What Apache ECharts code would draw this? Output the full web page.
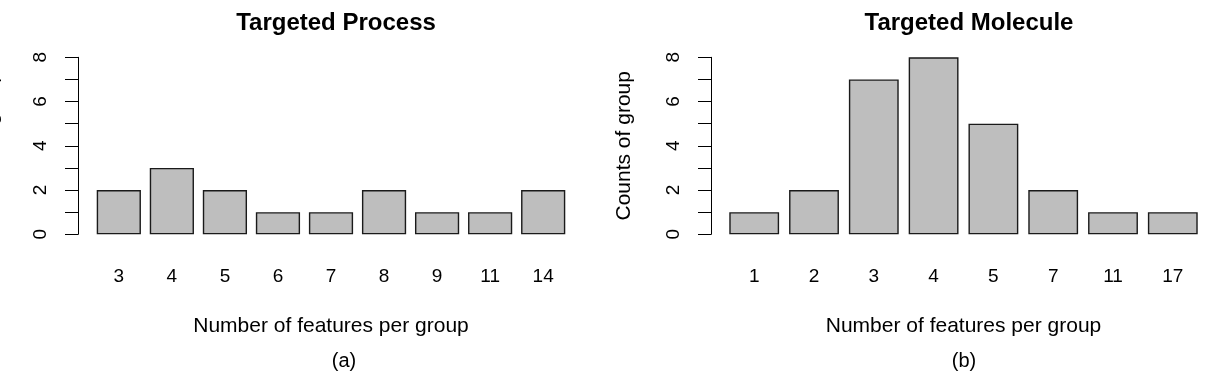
<!DOCTYPE html>
<html>
<head>
<meta charset="utf-8">
<script src="https://cdn.jsdelivr.net/npm/echarts@6/dist/echarts.min.js"></script>
<style>
html,body{margin:0;padding:0;background:#fff;}
#chart{width:1206px;height:378px;}
</style>
</head>
<body>
<div id="chart"></div>
<script>
// Data
const processCategories = ['3','4','5','6','7','8','9','11','14'];
const processCounts = [2,3,2,1,1,2,1,1,2];
const moleculeCategories = ['1','2','3','4','5','7','11','17'];
const moleculeCounts = [1,2,7,8,5,2,1,1];
const yTickValues = [0,2,4,6,8];
const titles = ['Targeted Process','Targeted Molecule'];
const subLabels = ['(a)','(b)'];
const xAxisName = 'Number of features per group';
const yAxisName = 'Counts of group';

const FONT = 'Liberation Sans, Arial, Helvetica, sans-serif';
const chart = echarts.init(document.getElementById('chart'), null, {renderer:'canvas'});

function yAxisCfg(gridIndex, offset){
  return {
    type:'value', gridIndex, min:0, max:8, interval:1, offset,
    name: yAxisName, nameLocation:'middle', nameGap:76, nameRotate:90,
    nameTextStyle:{color:'#000', fontFamily:FONT, fontSize:21},
    splitLine:{show:false},
    axisLine:{show:true, lineStyle:{color:'#000', width:1}},
    axisTick:{show:true, length:13, lineStyle:{color:'#000', width:1}},
    axisLabel:{
      rotate:90, margin:28, color:'#000', fontFamily:FONT, fontSize:19,
      formatter: v => (yTickValues.indexOf(v) >= 0 ? String(v) : '')
    }
  };
}
function xAxisCfg(gridIndex, cats){
  return {
    type:'category', gridIndex, data:cats,
    name: xAxisName, nameLocation:'middle', nameGap:81,
    nameTextStyle:{color:'#000', fontFamily:FONT, fontSize:21},
    axisLine:{show:false}, axisTick:{show:false},
    axisLabel:{margin:33, color:'#000', fontFamily:FONT, fontSize:19, interval:0}
  };
}
const barStyle = {color:'#bebebe', borderColor:'#1a1a1a', borderWidth:1.4};

chart.setOption({
  animation:false,
  backgroundColor:'#fff',
  title:[
    {text:titles[0], left:331, top:6, textAlign:'center',
     textStyle:{fontFamily:FONT, fontSize:24, fontWeight:'bold', color:'#000'}},
    {text:titles[1], left:964, top:6, textAlign:'center',
     textStyle:{fontFamily:FONT, fontSize:24, fontWeight:'bold', color:'#000'}},
    {text:subLabels[0], left:339, top:346, textAlign:'center',
     textStyle:{fontFamily:FONT, fontSize:20, fontWeight:'normal', color:'#000'}},
    {text:subLabels[1], left:959, top:346, textAlign:'center',
     textStyle:{fontFamily:FONT, fontSize:20, fontWeight:'normal', color:'#000'}}
  ],
  grid:[
    {left:92.3, top:57.3, width:477.4, height:177, outerBoundsMode:'none', containLabel:false},
    {left:724.3, top:57.3, width:478.4, height:177, outerBoundsMode:'none', containLabel:false}
  ],
  xAxis:[xAxisCfg(0, processCategories), xAxisCfg(1, moleculeCategories)],
  yAxis:[yAxisCfg(0, 14.3), yAxisCfg(1, 13.3)],
  series:[
    {type:'bar', xAxisIndex:0, yAxisIndex:0, data:processCounts, barCategoryGap:'16.67%', itemStyle:barStyle},
    {type:'bar', xAxisIndex:1, yAxisIndex:1, data:moleculeCounts, barCategoryGap:'16.67%', itemStyle:barStyle}
  ]
});
</script>
</body>
</html>
